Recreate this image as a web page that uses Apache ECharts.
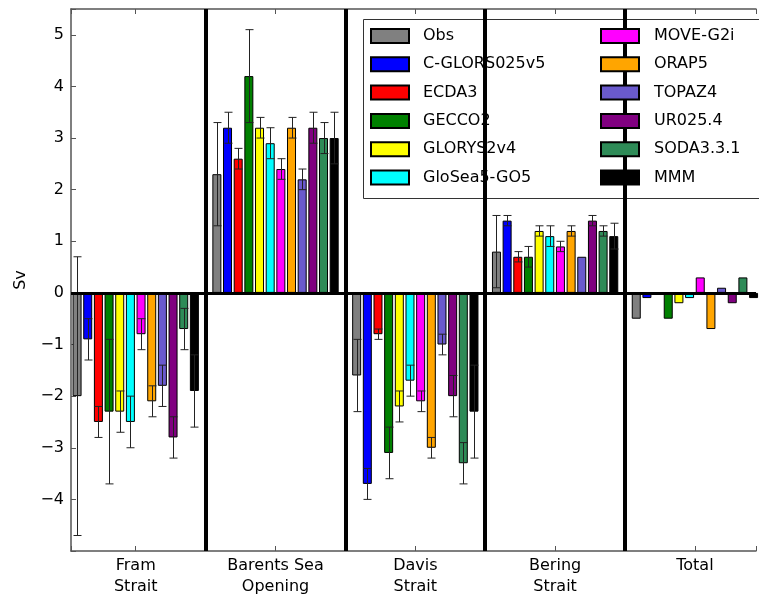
<!DOCTYPE html>
<html><head><meta charset="utf-8">
<script src="https://cdn.jsdelivr.net/npm/echarts@6/dist/echarts.min.js"></script>
<style>html,body{margin:0;padding:0;background:#fff}#c{width:759px;height:600px}</style>
</head><body><div id="c"></div>
<script>
const categories = ['Fram\nStrait', 'Barents Sea\nOpening', 'Davis\nStrait', 'Bering\nStrait', 'Total'];
const yTickLabels = [-4, -3, -2, -1, 0, 1, 2, 3, 4, 5];
const separators = [0.5, 1.5, 2.5, 3.5];
const models = ['Obs', 'C-GLORS025v5', 'ECDA3', 'GECCO2', 'GLORYS2v4', 'GloSea5-GO5',
                'MOVE-G2i', 'ORAP5', 'TOPAZ4', 'UR025.4', 'SODA3.3.1', 'MMM'];
const colors = ['#808080', '#0000ff', '#ff0000', '#008000', '#ffff00', '#00ffff',
                '#ff00ff', '#ffa500', '#6a5acd', '#800080', '#2e8b57', '#000000'];

// values per section: Fram, Barents, Davis, Bering, Total
const obs     = [-2.0, 2.3, -1.6, 0.8, -0.5];
const cglors  = [-0.9, 3.2, -3.7, 1.4, -0.1];
const ecda3   = [-2.5, 2.6, -0.8, 0.7, 0.0];
const gecco2  = [-2.3, 4.2, -3.1, 0.7, -0.5];
const glorys  = [-2.3, 3.2, -2.2, 1.2, -0.2];
const glosea  = [-2.5, 2.9, -1.7, 1.1, -0.1];
const move    = [-0.8, 2.4, -2.1, 0.9, 0.3];
const orap5   = [-2.1, 3.2, -3.0, 1.2, -0.7];
const topaz4  = [-1.8, 2.2, -1.0, 0.7, 0.1];
const ur025   = [-2.8, 3.2, -2.0, 1.4, -0.2];
const soda    = [-0.7, 3.0, -3.3, 1.2, 0.3];
const mmm     = [-1.9, 3.0, -2.3, 1.1, -0.1];

// error (half-range)
const obsErr    = [2.7, 1.0, 0.7, 0.7, 0];
const cglorsErr = [0.4, 0.3, 0.3, 0.1, 0];
const ecda3Err  = [0.3, 0.2, 0.1, 0.1, 0];
const gecco2Err = [1.4, 0.9, 0.5, 0.2, 0];
const glorysErr = [0.4, 0.2, 0.3, 0.1, 0];
const gloseaErr = [0.5, 0.3, 0.3, 0.2, 0];
const moveErr   = [0.3, 0.2, 0.2, 0.1, 0];
const orap5Err  = [0.3, 0.2, 0.2, 0.1, 0];
const topaz4Err = [0.4, 0.2, 0.2, 0.0, 0];
const ur025Err  = [0.4, 0.3, 0.4, 0.1, 0];
const sodaErr   = [0.4, 0.3, 0.4, 0.1, 0];
const mmmErr    = [0.7, 0.5, 0.9, 0.25, 0];

const values = [obs, cglors, ecda3, gecco2, glorys, glosea, move, orap5, topaz4, ur025, soda, mmm];
const errs = [obsErr, cglorsErr, ecda3Err, gecco2Err, glorysErr, gloseaErr, moveErr, orap5Err, topaz4Err, ur025Err, sodaErr, mmmErr];

const BAR_W = 9, BAR_GAP = 0.185, CAP = 4;
const FONT = 'DejaVu Sans';

const chart = echarts.init(document.getElementById('c'));

const barSeries = models.map((m, k) => ({
  name: m, type: 'bar', barWidth: BAR_W, barGap: (BAR_GAP * 100) + '%',
  data: values[k].map((v, i) => [i, v]),
  itemStyle: { color: colors[k], borderColor: '#000', borderWidth: 1 },
  z: 2
}));

const errData = [];
values.forEach((vals, k) => vals.forEach((v, i) => {
  if (errs[k][i] > 0) errData.push([i, v, errs[k][i], k]);
}));

const errSeries = {
  type: 'custom', name: 'errorbars', z: 3, data: errData, encode: { x: 0, y: 1 },
  renderItem(params, api) {
    const i = api.value(0), v = api.value(1), e = api.value(2), k = api.value(3);
    const slot = BAR_W * (1 + BAR_GAP);
    const off = (k - (models.length - 1) / 2) * slot;
    const p1 = api.coord([i, v + e]), p2 = api.coord([i, v - e]);
    const x = Math.round(p1[0] + off) + 0.5;
    const st = { stroke: '#222', lineWidth: 1 };
    return { type: 'group', children: [
      { type: 'line', shape: { x1: x, y1: p1[1], x2: x, y2: p2[1] }, style: st },
      { type: 'line', shape: { x1: x - CAP, y1: p1[1], x2: x + CAP, y2: p1[1] }, style: st },
      { type: 'line', shape: { x1: x - CAP, y1: p2[1], x2: x + CAP, y2: p2[1] }, style: st }
    ]};
  },
  markLine: {
    silent: true, symbol: 'none', label: { show: false },
    lineStyle: { color: '#000', width: 4, type: 'solid' },
    data: separators.map(s => ({ xAxis: s })).concat([{ yAxis: 0, lineStyle: { width: 3, color: '#000', type: 'solid' } }])
  }
};

const xBase = {
  type: 'value', min: -0.463, max: 4.437, minInterval: 1, maxInterval: 1,
  axisLine: { show: true, onZero: false, lineStyle: { color: '#555', width: 1.5 } },
  axisTick: { show: true, inside: true, length: 5, lineStyle: { color: '#555' } },
  splitLine: { show: false }
};

const legendBase = {
  orient: 'vertical', top: 28, itemWidth: 38, itemHeight: 14, itemGap: 12.3, icon: 'rect',
  padding: 0, z: 6, selectedMode: false,
  textStyle: { fontFamily: FONT, fontSize: 16, color: '#000', lineHeight: 16 }
};

chart.setOption({
  animation: false,
  backgroundColor: '#fff',
  grid: { left: 71, top: 9, right: 0, height: 542 },
  xAxis: [
    Object.assign({}, xBase, {
      position: 'bottom',
      axisLabel: { fontFamily: FONT, fontSize: 16, color: '#000', lineHeight: 21, margin: 4,
        formatter: v => (Number.isInteger(v) && categories[v] !== undefined) ? categories[v] : '' }
    }),
    Object.assign({}, xBase, { position: 'top', axisLabel: { show: false } })
  ],
  yAxis: {
    type: 'value', min: -5, max: 5.5, minInterval: 1, maxInterval: 1,
    name: 'Sv', nameLocation: 'middle', nameGap: 42,
    nameTextStyle: { fontFamily: FONT, fontSize: 16, color: '#000' },
    axisLine: { show: true, onZero: false, lineStyle: { color: '#555', width: 1.5 } },
    axisTick: { show: true, inside: true, length: 5, lineStyle: { color: '#555' } },
    splitLine: { show: false },
    axisLabel: { fontFamily: FONT, fontSize: 16, color: '#000', margin: 7,
      formatter: v => yTickLabels.includes(v) ? (v < 0 ? '\u2212' + (-v) : String(v)) : '' }
  },
  legend: [
    Object.assign({}, legendBase, { left: 370, data: models.slice(0, 6),
      textStyle: Object.assign({}, legendBase.textStyle, { padding: [0, 0, 0, 9] }) }),
    Object.assign({}, legendBase, { left: 600, data: models.slice(6),
      textStyle: Object.assign({}, legendBase.textStyle, { padding: [0, 0, 0, 10] }) })
  ],
  graphic: [{
    type: 'rect', left: 363, top: 19, z: 5,
    shape: { width: 420, height: 179 },
    style: { fill: '#fff', stroke: '#333', lineWidth: 1 }
  }],
  series: barSeries.concat([errSeries])
});
</script>
</body></html>
